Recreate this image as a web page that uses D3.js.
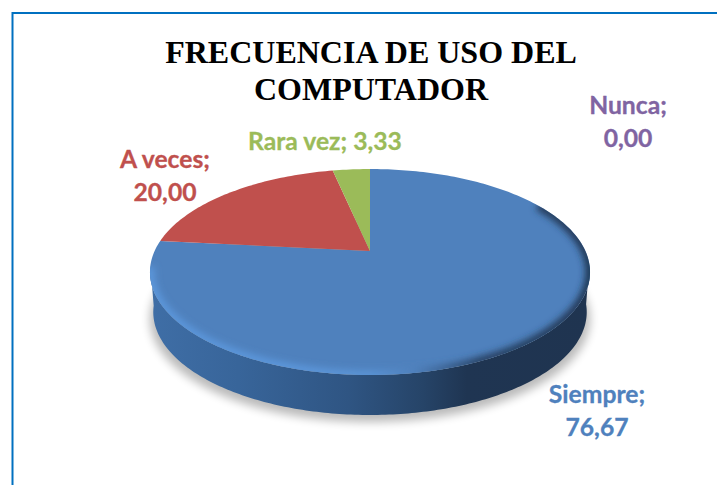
<!DOCTYPE html>
<html>
<head>
<meta charset="utf-8">
<script src="https://cdnjs.cloudflare.com/ajax/libs/d3/7.8.5/d3.min.js"></script>
<style>
  html, body { margin: 0; padding: 0; background: #fff; overflow: hidden; }
  svg { display: block; }
</style>
</head>
<body>
<div id="chart"></div>
<script>
// chart data
var categories = ["Siempre", "A veces", "Rara vez", "Nunca"];
var values = [76.67, 20.00, 3.33, 0.00];
var colors = ["#4f81bd", "#c0504d", "#9bbb59", "#8064a2"];
var titleLines = ["FRECUENCIA DE USO DEL", "COMPUTADOR"];

var width = 717, height = 485;

// pie seen in perspective: center of the disc lands at (cx, cy)
var cx = 370, cy = 251;
var spreadX = 215.4, spreadY = 98.7, persp = 0.204;
var depth = 40;

// label anchor (center x, first baseline), one per category
var labelX = [597, 165, 325, 628];
var labelY = [403, 168, 150, 114];
var labelBreak = [true, true, false, true];

var svg = d3.select("#chart").append("svg")
	.attr("width", width)
	.attr("height", height);

var defs = svg.append("defs");

defs.append("filter").attr("id", "shadowBlur")
	.attr("x", "-10%").attr("y", "-10%").attr("width", "120%").attr("height", "120%")
	.append("feGaussianBlur").attr("stdDeviation", 5);
defs.append("filter").attr("id", "rimBlur")
	.attr("x", "-10%").attr("y", "-10%").attr("width", "120%").attr("height", "120%")
	.append("feGaussianBlur").attr("stdDeviation", 3.5);

function hGradient(id, stops) {
	defs.append("linearGradient").attr("id", id)
		.attr("gradientUnits", "userSpaceOnUse")
		.attr("x1", cx - 220).attr("x2", cx + 220)
		.attr("y1", 0).attr("y2", 0)
		.selectAll("stop").data(stops).enter().append("stop")
		.attr("offset", d => d[0])
		.attr("stop-color", d => d[1]);
}
hGradient("sideGrad", [[0, "#3f6ea6"], [0.2, "#38659a"], [0.45, "#2f5583"], [0.62, "#264468"], [0.72, "#1f3552"], [1, "#1f3450"]]);
hGradient("rimGrad", [[0, "#5c97dc"], [0.3, "#5c97dc"], [0.5, "#5a94d6"], [0.6, "#4f81bd"], [0.75, "#263f60"], [1, "#1f3450"]]);

// circle angle -> screen position, k shrinks the circle a little for the lower edge
function project(a, dy, k) {
	var u = Math.sin(a), v = -Math.cos(a);
	var w = 1 - persp * v;
	return [cx + (k || 1) * spreadX * u / w, cy + spreadY * v / w + (dy || 0)];
}

var pie = d3.pie().sort(null).value(d => d);
var slices = pie(values);

var curve = d3.line();

function arcPoints(a0, a1, dy, k) {
	var n = Math.max(2, Math.ceil(Math.abs(a1 - a0) / 0.02));
	return d3.range(n + 1).map(i => project(a0 + (a1 - a0) * i / n, dy, k));
}

var fullCircle = arcPoints(0, 2 * Math.PI, 0);
var outlinePath = curve(fullCircle) + "Z";

defs.append("clipPath").attr("id", "topClip")
	.append("path").attr("d", outlinePath);

// frame, runs off the picture at right and bottom
svg.append("rect")
	.attr("x", 12.5).attr("y", 13)
	.attr("width", 800).attr("height", 600)
	.attr("fill", "none")
	.attr("stroke", "#0070c0")
	.attr("stroke-width", 2);

// soft shadow under the disc
svg.append("path")
	.attr("d", curve(arcPoints(0, 2 * Math.PI, depth + 7)) + "Z")
	.attr("fill", "#000")
	.attr("opacity", 0.27)
	.attr("filter", "url(#shadowBlur)");

// side wall: front half of the rim pushed down by depth
var frontA = d3.range(0, 1, 0.005).map(i => Math.PI / 2 + 0.13 + i * (Math.PI - 0.26));
var frontTop = frontA.map(a => project(a, 0));
var frontBottom = frontA.map(a => project(a, depth, 0.985)).reverse();
svg.append("path")
	.attr("d", curve(frontTop.concat(frontBottom)) + "Z")
	.attr("fill", "url(#sideGrad)");

// top face slices, skip the empty one
var topFace = svg.append("g");
topFace.selectAll("path.slice")
	.data(slices.filter(d => d.value > 0))
	.enter().append("path")
	.attr("class", "slice")
	.attr("d", d => curve([[cx, cy]].concat(arcPoints(d.startAngle, d.endAngle, 0))) + "Z")
	.attr("fill", d => colors[d.index]);

// bevel along the rim, lit on the left and dark on the right
svg.append("g")
	.attr("clip-path", "url(#topClip)")
	.append("path")
	.attr("d", curve(arcPoints(Math.PI * 0.33, Math.PI * 1.45, 0)))
	.attr("fill", "none")
	.attr("stroke", "url(#rimGrad)")
	.attr("stroke-width", 9)
	.attr("filter", "url(#rimBlur)");

// title
svg.append("g").selectAll("text")
	.data(titleLines)
	.enter().append("text")
	.attr("x", 371)
	.attr("y", (d, i) => 63 + i * 37)
	.attr("text-anchor", "middle")
	.style("font-family", "'Liberation Serif', serif")
	.style("font-weight", "bold")
	.style("font-size", "32px")
	.style("fill", "#000")
	.text(d => d);

// data labels "name; value"
var fmt = v => v.toFixed(2).replace(".", ",");
var labels = svg.append("g").selectAll("text")
	.data(categories)
	.enter().append("text")
	.attr("text-anchor", "middle")
	.style("font-family", "Lato, sans-serif")
	.style("font-weight", "bold")
	.style("font-size", "24.7px")
	.style("fill", (d, i) => colors[i])
	.style("stroke", (d, i) => colors[i])
	.style("stroke-width", 0.3);

labels.each(function(d, i) {
	var t = d3.select(this);
	if (labelBreak[i]) {
		t.append("tspan").attr("x", labelX[i]).attr("y", labelY[i]).text(d + ";");
		t.append("tspan").attr("x", labelX[i]).attr("y", labelY[i] + 33).text(fmt(values[i]));
	} else {
		t.append("tspan").attr("x", labelX[i]).attr("y", labelY[i]).text(d + "; " + fmt(values[i]));
	}
});
</script>
</body>
</html>
